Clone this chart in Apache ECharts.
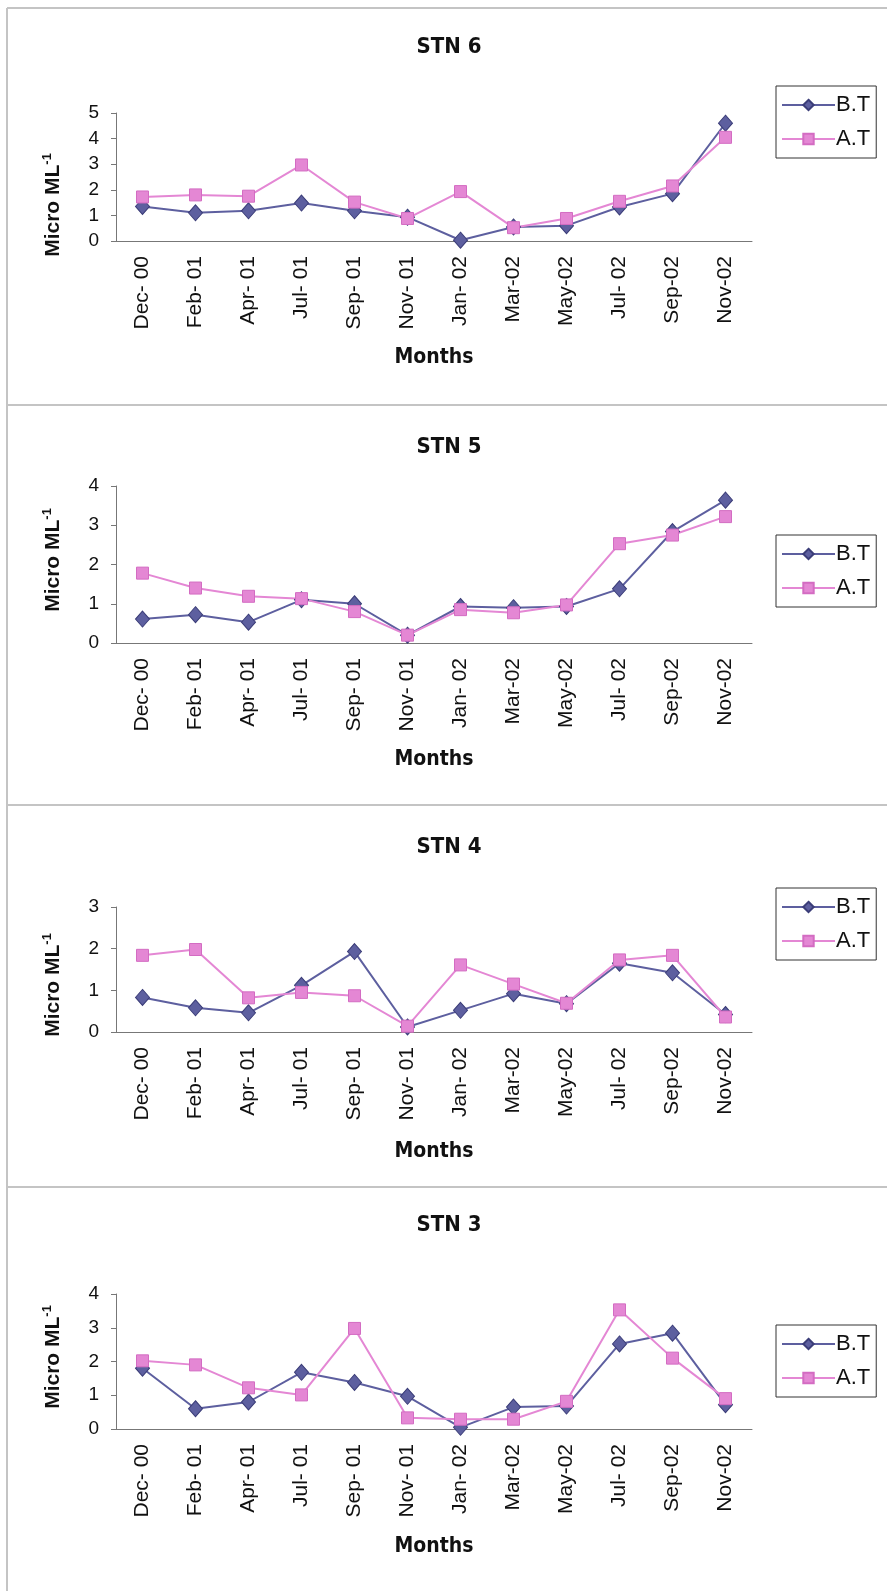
<!DOCTYPE html>
<html>
<head>
<meta charset="utf-8">
<script src="https://cdn.jsdelivr.net/npm/echarts@6/dist/echarts.min.js"></script>
<style>
  html, body { margin: 0; padding: 0; background: #fff; }
  #chart-container { width: 887px; height: 1591px; }
</style>
</head>
<body>
<div id="chart-container"></div>
<script>
var months = ['Dec- 00', 'Feb- 01', 'Apr- 01', 'Jul- 01', 'Sep- 01', 'Nov- 01',
              'Jan- 02', 'Mar-02', 'May-02', 'Jul- 02', 'Sep-02', 'Nov-02'];

var seriesNames = ['B.T', 'A.T'];

// STN 6
var bt6 = [1.35, 1.1, 1.18, 1.48, 1.18, 0.93, 0.03, 0.55, 0.6, 1.33, 1.85, 4.6];
var at6 = [1.72, 1.8, 1.75, 2.97, 1.52, 0.88, 1.93, 0.52, 0.88, 1.55, 2.15, 4.05];
// STN 5
var bt5 = [0.61, 0.72, 0.53, 1.1, 1.0, 0.2, 0.93, 0.9, 0.93, 1.38, 2.84, 3.64];
var at5 = [1.78, 1.4, 1.19, 1.13, 0.8, 0.2, 0.85, 0.77, 0.97, 2.53, 2.75, 3.22];
// STN 4
var bt4 = [0.83, 0.58, 0.46, 1.12, 1.93, 0.12, 0.52, 0.92, 0.68, 1.65, 1.42, 0.42];
var at4 = [1.84, 1.98, 0.82, 0.95, 0.87, 0.14, 1.61, 1.15, 0.69, 1.73, 1.84, 0.36];
// STN 3
var bt3 = [1.8, 0.6, 0.8, 1.68, 1.38, 0.97, 0.05, 0.65, 0.68, 2.52, 2.84, 0.72];
var at3 = [2.02, 1.9, 1.22, 1.01, 2.98, 0.33, 0.29, 0.29, 0.82, 3.53, 2.1, 0.9];

var stationTitles = ['STN 6', 'STN 5', 'STN 4', 'STN 3'];
var yMaxes = [5, 4, 3, 4];

var dom = document.getElementById('chart-container');
var myChart = echarts.init(dom, null, { renderer: 'canvas' });

var btColor = '#5d5f9f';
var atColor = '#e487d4';
var font = '"Liberation Sans", Arial, sans-serif';
var narrow = '"Liberation Sans Narrow", "DejaVu Sans Condensed", "Liberation Sans", Arial, sans-serif';

// layout of the four stacked panels
var panels = [
    { bt: bt6, at: at6, top: 113, height: 128, legendTop: 86,   titleY: 47,   yTitleY: 205,  monthsY: 358 },
    { bt: bt5, at: at5, top: 486, height: 157, legendTop: 535,  titleY: 447,  yTitleY: 560,  monthsY: 760 },
    { bt: bt4, at: at4, top: 907, height: 125, legendTop: 888,  titleY: 847,  yTitleY: 985,  monthsY: 1152 },
    { bt: bt3, at: at3, top: 1294, height: 135, legendTop: 1325, titleY: 1225, yTitleY: 1357, monthsY: 1547 }
];

var grids = [], xAxes = [], yAxes = [], series = [], legends = [], graphics = [];

panels.forEach(function (p, i) {
    grids.push({ left: 116, top: p.top, width: 636, height: p.height });
    xAxes.push({
        type: 'category',
        gridIndex: i,
        data: months,
        boundaryGap: true,
        axisLine: { lineStyle: { color: '#777', width: 1 } },
        axisTick: { length: 6, lineStyle: { color: '#777' } },
        axisLabel: { rotate: 90, interval: 0, fontSize: 21, margin: 15, color: '#111', fontFamily: font }
    });
    yAxes.push({
        type: 'value',
        gridIndex: i,
        min: 0,
        max: yMaxes[i],
        interval: 1,
        splitLine: { show: false },
        axisLine: { show: true, lineStyle: { color: '#777', width: 1 } },
        axisTick: { show: true, length: 5, lineStyle: { color: '#777' } },
        axisLabel: { fontSize: 19, margin: 17, color: '#111', fontFamily: font }
    });
    series.push({
        name: 'B.T', type: 'line', xAxisIndex: i, yAxisIndex: i,
        data: p.bt,
        symbol: 'diamond', symbolSize: [14, 16],
        lineStyle: { color: btColor, width: 2 },
        itemStyle: { color: btColor, borderColor: '#3b3d78', borderWidth: 1 }
    });
    series.push({
        name: 'A.T', type: 'line', xAxisIndex: i, yAxisIndex: i,
        data: p.at,
        symbol: 'rect', symbolSize: 12,
        lineStyle: { color: atColor, width: 2 },
        itemStyle: { color: atColor, borderColor: '#d36cc2', borderWidth: 1 }
    });
    legends.push({
        data: seriesNames,
        orient: 'vertical',
        left: 776,
        top: p.legendTop,
        itemWidth: 53,
        itemHeight: 13,
        itemGap: 12,
        padding: [8, 6, 8, 5],
        borderColor: '#333',
        borderWidth: 1,
        backgroundColor: '#fff',
        textStyle: { fontSize: 22, color: '#111', fontFamily: font, padding: [0, 0, 0, -4] }
    });
    graphics.push({
        type: 'text', x: 449, y: p.titleY,
        style: { text: stationTitles[i], font: 'bold 22px ' + narrow, fill: '#111',
                 textAlign: 'center', textVerticalAlign: 'middle' }
    });
    graphics.push({
        type: 'text', x: 434, y: p.monthsY,
        style: { text: 'Months', font: 'bold 21px ' + narrow, fill: '#111',
                 textAlign: 'center', textVerticalAlign: 'middle' }
    });
    graphics.push({
        type: 'text', x: 53, y: p.yTitleY, rotation: Math.PI / 2,
        style: {
            text: '{a|Micro ML}{b|-1}',
            textAlign: 'center', textVerticalAlign: 'middle',
            rich: {
                a: { fontSize: 21, fontWeight: 'bold', fontFamily: font, fill: '#111', lineHeight: 24 },
                b: { fontSize: 13, fontWeight: 'bold', fontFamily: font, fill: '#111', verticalAlign: 'top', lineHeight: 24 }
            }
        }
    });
});

// panel frame lines
[8, 405, 805, 1187].forEach(function (y) {
    graphics.push({ type: 'line', shape: { x1: 7, y1: y, x2: 887, y2: y },
                    style: { stroke: '#c4c4c4', lineWidth: 2 } });
});
graphics.push({ type: 'line', shape: { x1: 7, y1: 8, x2: 7, y2: 1591 },
                style: { stroke: '#c4c4c4', lineWidth: 2 } });

var option = {
    backgroundColor: '#fff',
    animation: false,
    grid: grids,
    xAxis: xAxes,
    yAxis: yAxes,
    legend: legends,
    series: series,
    graphic: graphics
};

if (option && typeof option === 'object') {
    myChart.setOption(option);
}

window.addEventListener('resize', myChart.resize);
</script>
</body>
</html>
